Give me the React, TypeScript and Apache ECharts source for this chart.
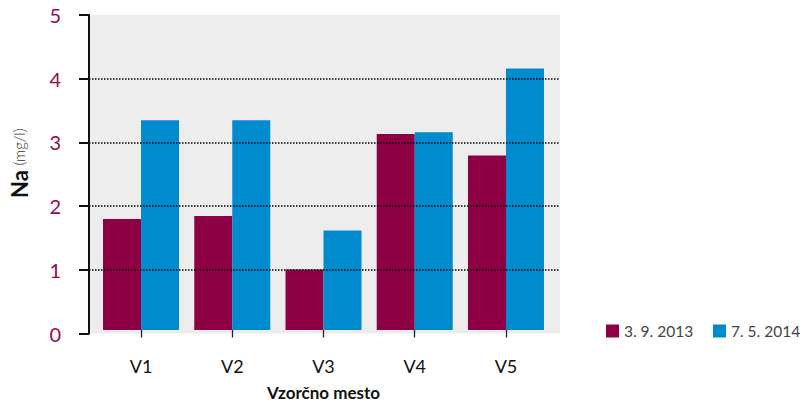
import React, { useEffect, useRef } from "react";
import * as echarts from "echarts";

const categories = ["V1", "V2", "V3", "V4", "V5"];
const series2013 = [1.76, 1.81, 0.96, 3.11, 2.77];
const series2014 = [3.33, 3.33, 1.58, 3.14, 4.15];
const legendNames = ["3. 9. 2013", "7. 5. 2014"];
const yTicks = { min: 0, max: 5, interval: 1 };

const MAGENTA = "#8e0044";
const LABEL_MAGENTA = "#950a4e";
const BLUE = "#008bce";
const FONT = "Lato, 'Open Sans', sans-serif";

const legendBase = {
  orient: "horizontal",
  top: 323,
  padding: 0,
  itemWidth: 13,
  itemHeight: 13,
  icon: "rect",
  textStyle: { color: "#444", fontSize: 15.5, fontFamily: FONT },
};

export default function App() {
  const ref = useRef<HTMLDivElement>(null);
  useEffect(() => {
    if (!ref.current) return;
    const chart = echarts.init(ref.current, undefined, { renderer: "svg" });
    chart.setOption({
      animation: false,
      textStyle: { fontFamily: FONT },
      grid: [
        { left: 88, right: 242, top: 15, bottom: 72.5, show: true, backgroundColor: "#ededed", borderWidth: 0 },
        { left: 95.4, right: 250.4, top: 15, bottom: 72.5 },
      ],
      legend: [
        { ...legendBase, left: 606, data: [legendNames[0]] },
        { ...legendBase, left: 713, data: [legendNames[1]] },
      ],
      xAxis: [
        { type: "value", gridIndex: 0, show: false, min: 0, max: 1 },
        {
          type: "category",
          gridIndex: 1,
          data: categories,
          offset: 13,
          axisLine: { show: false },
          axisTick: { show: true, alignWithLabel: true, length: 7.5, lineStyle: { color: "#222", width: 1.3 } },
          axisLabel: { color: "#111", fontSize: 18, margin: 14, fontFamily: FONT },
          name: "Vzorčno mesto",
          nameLocation: "middle",
          nameGap: 41,
          nameTextStyle: { color: "#111", fontSize: 17, fontWeight: "bold", fontFamily: FONT },
        },
      ],
      yAxis: [
        {
          type: "value",
          gridIndex: 0,
          min: yTicks.min,
          max: yTicks.max,
          interval: yTicks.interval,
          offset: 11,
          z: 10,
          axisLine: { show: true, lineStyle: { color: "#111", width: 2 } },
          axisTick: { show: true, length: 10, lineStyle: { color: "#111", width: 2 } },
          axisLabel: { color: LABEL_MAGENTA, fontSize: 20, margin: 17, fontFamily: FONT },
          splitLine: { show: true, showMinLine: false, showMaxLine: false, lineStyle: { color: "#000", width: 1.5, type: [1.5, 1.5] } },
          name: "{b|Na} {l|(mg/l)}",
          nameLocation: "middle",
          nameRotate: 90,
          nameGap: 48,
          nameTextStyle: {
            fontSize: 18,
            color: "#111",
            padding: [0, 0, 0, 22],
            rich: {
              b: { fontSize: 22, fontWeight: "bold", color: "#111", fontFamily: FONT },
              l: { fontSize: 15, fontWeight: 300, color: "#333", fontFamily: FONT },
            },
          },
        },
        { type: "value", gridIndex: 1, min: yTicks.min, max: yTicks.max, show: false },
      ],
      series: [
        {
          name: legendNames[0],
          type: "bar",
          xAxisIndex: 1,
          yAxisIndex: 1,
          data: series2013,
          barWidth: 38,
          barGap: "0%",
          itemStyle: { color: MAGENTA },
        },
        {
          name: legendNames[1],
          type: "bar",
          xAxisIndex: 1,
          yAxisIndex: 1,
          data: series2014,
          barWidth: 38,
          barGap: "0%",
          itemStyle: { color: BLUE },
        },
      ],
    });
    return () => chart.dispose();
  }, []);
  return <div ref={ref} style={{ width: 802, height: 406, position: "absolute", left: 0, top: 0 }} />;
}
